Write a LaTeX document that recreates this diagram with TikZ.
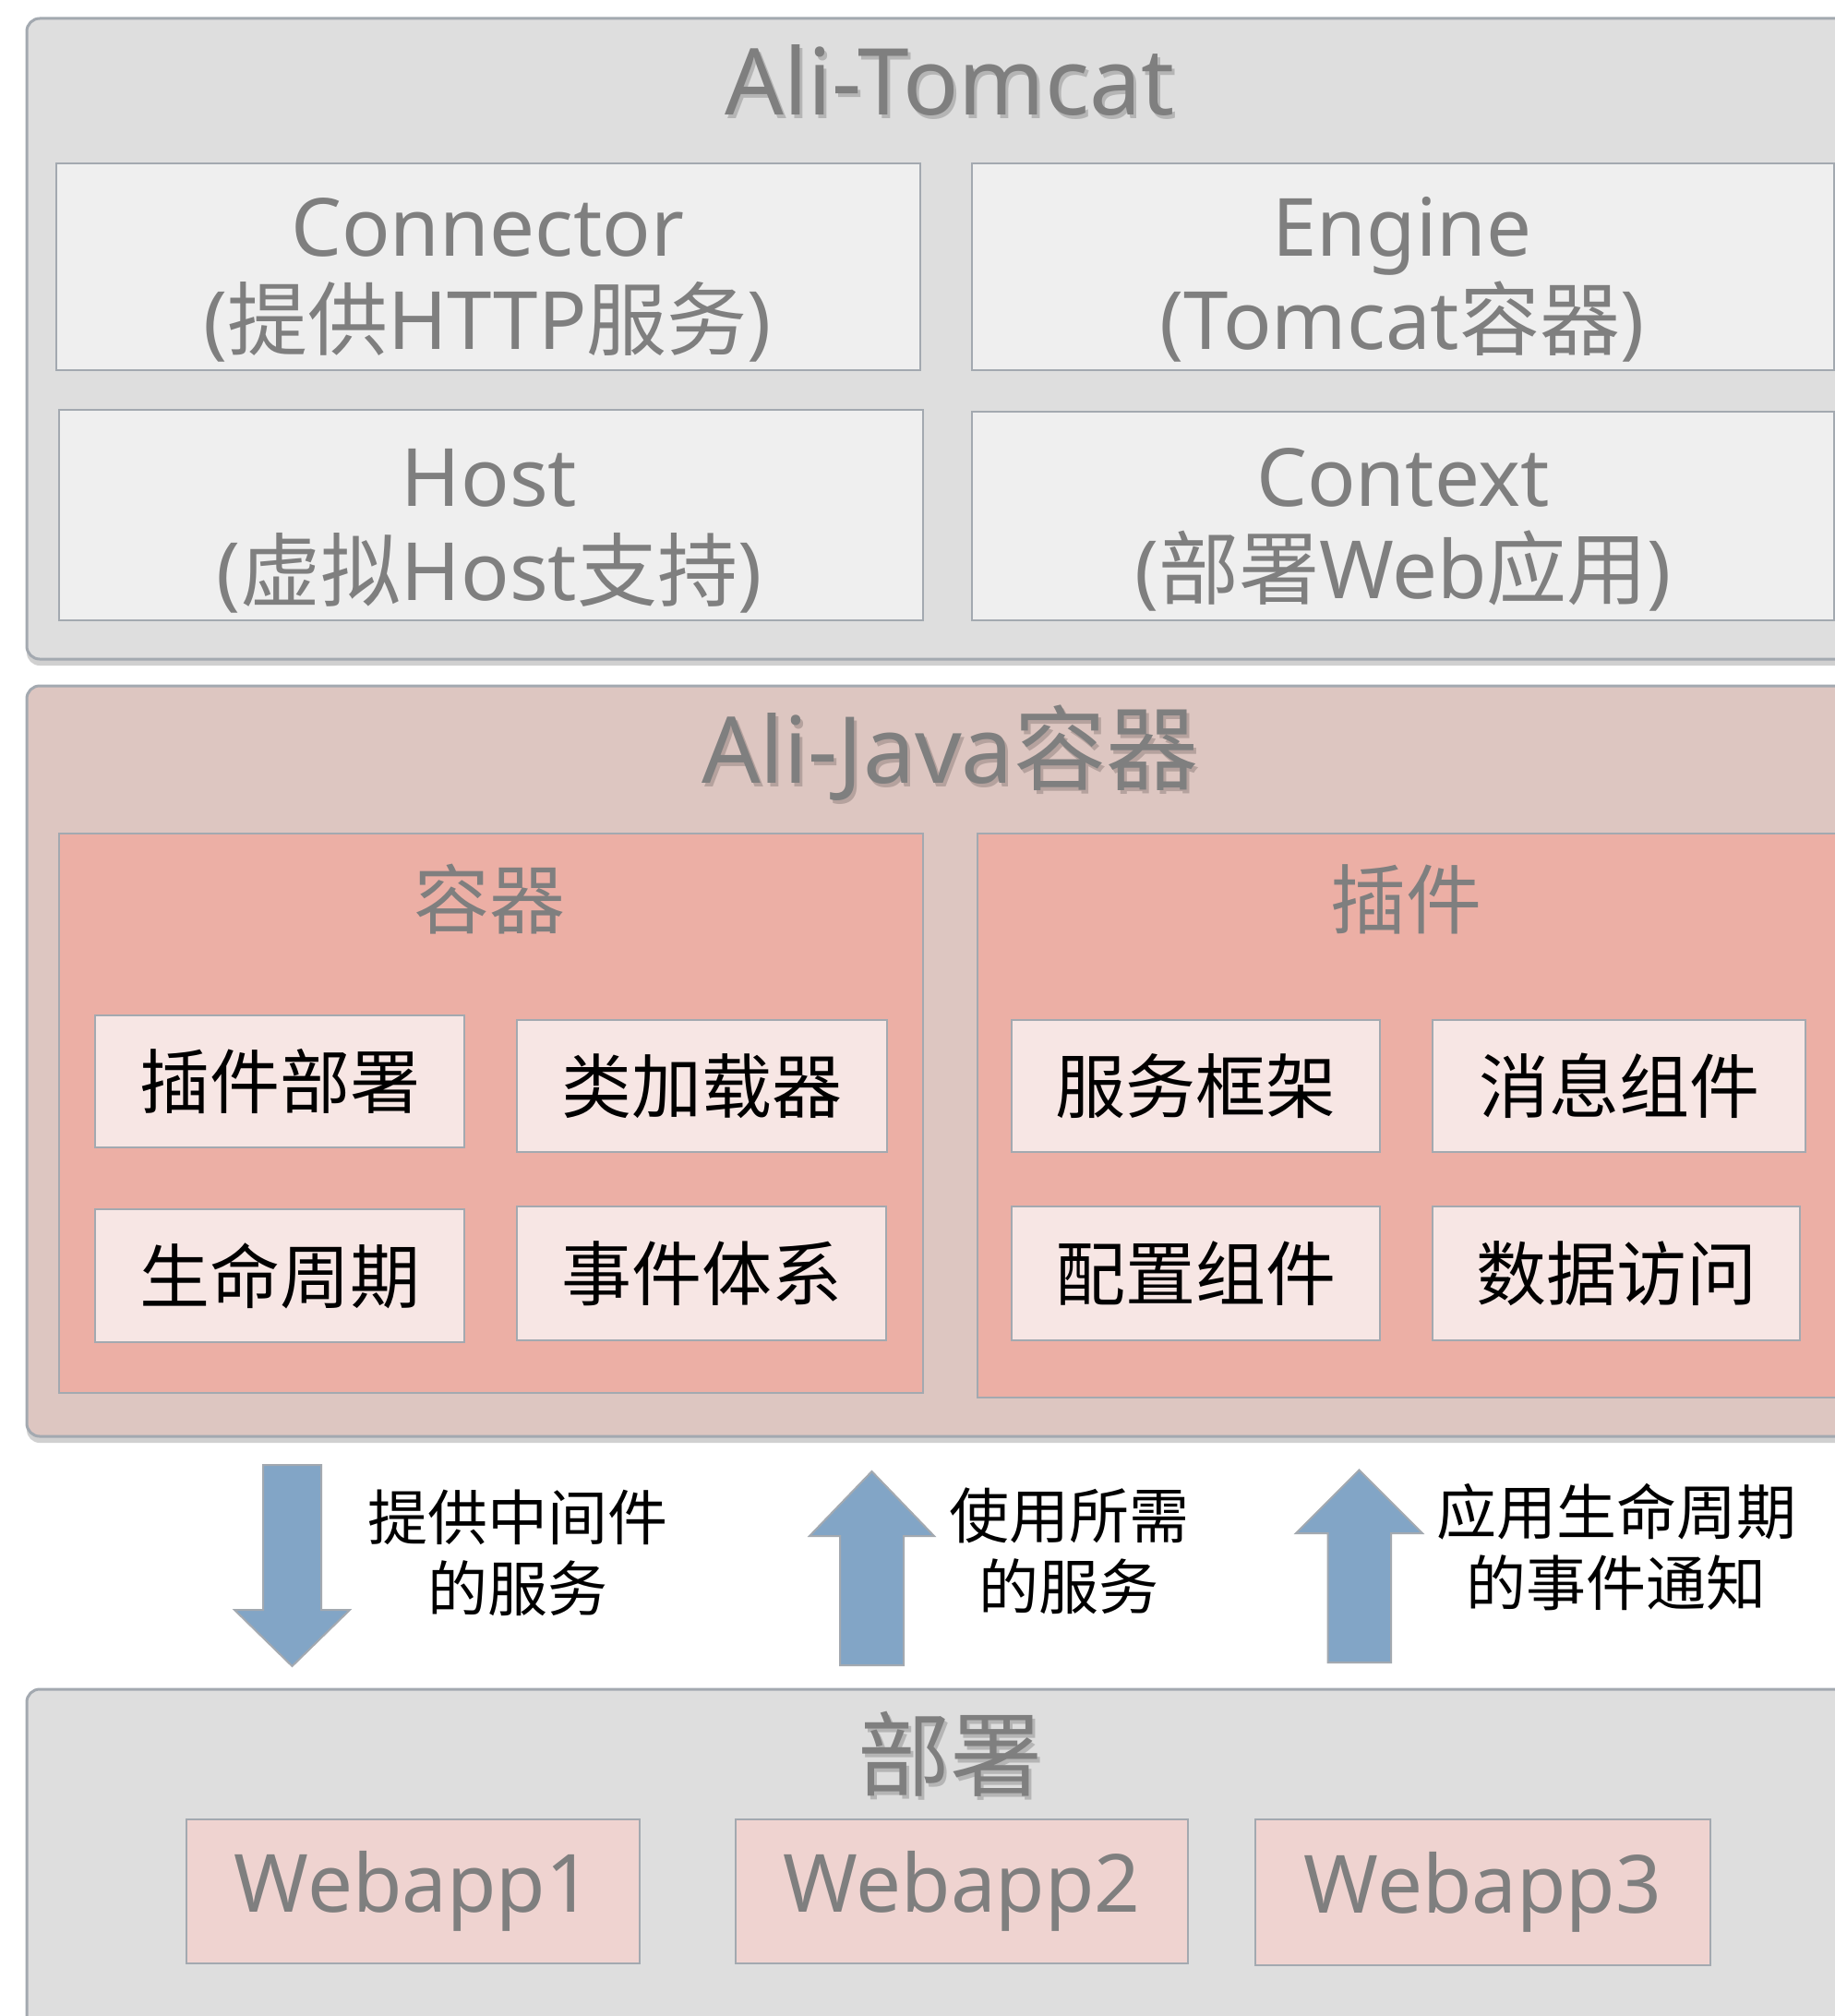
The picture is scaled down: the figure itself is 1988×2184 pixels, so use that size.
\documentclass[tikz,border=0pt]{standalone}
\usepackage{fontspec}
\setmainfont{Noto Sans}
\newfontfamily\cjk{Noto Sans CJK SC}
\usetikzlibrary{shadows}
\definecolor{panelgray}{HTML}{DEDEDE}
\definecolor{edgegray}{HTML}{A3A9B0}
\definecolor{boxgray}{HTML}{EFEFEF}
\definecolor{panelpink}{HTML}{DDC6C1}
\definecolor{innerpink}{HTML}{ECAFA5}
\definecolor{cellpink}{HTML}{F7E6E4}
\definecolor{apppink}{HTML}{EFD3D0}
\definecolor{txtgray}{HTML}{7F7F7F}
\definecolor{arrowblue}{HTML}{82A5C6}
\newcommand\zh[1]{{\cjk #1}}
\newcommand\fsz[1]{\fontsize{#1}{#1}\selectfont}
\tikzset{
  panel/.style={draw=edgegray, line width=3pt, rounded corners=14pt, anchor=north west,
    inner sep=0pt, outer sep=0pt,
    drop shadow={shadow xshift=0pt, shadow yshift=-7pt, opacity=0.3, fill=black!60}},
  frame/.style={draw=edgegray, line width=2.5pt, anchor=north west, inner sep=0pt, outer sep=0pt},
  cell/.style={draw=edgegray, line width=2.5pt, fill=cellpink, inner sep=0pt, text=black, font=\cjk\fsz{76}},
  app/.style={draw=edgegray, line width=2.5pt, fill=apppink, inner sep=0pt, text=txtgray, font=\fsz{87}},
  boxtext/.style={anchor=base, inner sep=0pt, text=txtgray, font=\fsz{87}},
  title/.style={anchor=base, inner sep=0pt, text=txtgray, font=\fsz{100}},
  tshadow/.style={anchor=base, inner sep=0pt, text=black, opacity=0.18, font=\fsz{100}},
  head/.style={inner sep=0pt, text=txtgray, font=\cjk\fsz{82}},
  note/.style={inner sep=0pt, align=center, text=black, font=\cjk\fontsize{65}{77}\selectfont},
  blockarrow/.style={fill=arrowblue, draw=edgegray, line width=2pt, line join=miter},
}
\begin{document}
\begin{tikzpicture}[x=1pt, y=-1pt]
\useasboundingbox (0,0) rectangle (1988,2184);
\fill[white] (0,0) rectangle (1988,2184);
\clip (0,0) rectangle (1988,2184);

% ---------- Ali-Tomcat ----------
\node[panel, fill=panelgray, minimum width=2001pt, minimum height=694pt] (tomcat) at (29,20) {};
\node[tshadow] at (1029+3,124+4) {Ali-Tomcat};
\node[title] (tomcatT) at (1029,124) {Ali-Tomcat};

\node[frame, fill=boxgray, minimum width=936pt, minimum height=224pt] (conn) at (61,177) {};
\node[frame, fill=boxgray, minimum width=934pt, minimum height=224pt] (engine) at (1053,177) {};
\node[frame, fill=boxgray, minimum width=936pt, minimum height=228pt] (host) at (64,444) {};
\node[frame, fill=boxgray, minimum width=934pt, minimum height=226pt] (context) at (1053,446) {};

\node[boxtext] (connA) at (528,277) {Connector};
\node[boxtext] (connB) at (528,378) {(\zh{提供}HTTP\zh{服务})};
\node[boxtext] (engA) at (1519,277) {Engine};
\node[boxtext] (engB) at (1519,378) {(Tomcat\zh{容器})};
\node[boxtext] (hostA) at (530,548) {Host};
\node[boxtext] (hostB) at (530,650) {(\zh{虚拟}Host\zh{支持})};
\node[boxtext] (ctxA) at (1520,548) {Context};
\node[boxtext] (ctxB) at (1520,648) {(\zh{部署}Web\zh{应用})};

% ---------- Ali-Java ----------
\node[panel, fill=panelpink, minimum width=2001pt, minimum height=813pt] (java) at (29,743) {};
\node[tshadow] at (1029+3,848+4) {Ali-Java\zh{容器}};
\node[title] (javaT) at (1029,848) {Ali-Java\zh{容器}};

\node[frame, fill=innerpink, minimum width=936pt, minimum height=606pt] (rongqi) at (64,903) {};
\node[frame, fill=innerpink, minimum width=971pt, minimum height=611pt] (chajian) at (1059,903) {};
\node[head] (rongqiT) at (530,974) {容器};
\node[head] (chajianT) at (1523,974) {插件};

\node[cell, minimum width=400pt, minimum height=143pt] (b1) at (303,1171.5) {插件部署};
\node[cell, minimum width=401pt, minimum height=143pt] (b2) at (760.5,1176.5) {类加载器};
\node[cell, minimum width=400pt, minimum height=144pt] (b3) at (303,1382) {生命周期};
\node[cell, minimum width=400pt, minimum height=145pt] (b4) at (760,1379.5) {事件体系};
\node[cell, minimum width=399pt, minimum height=143pt] (b5) at (1295.5,1176.5) {服务框架};
\node[cell, minimum width=404pt, minimum height=143pt] (b6) at (1754,1176.5) {消息组件};
\node[cell, minimum width=399pt, minimum height=145pt] (b7) at (1295.5,1379.5) {配置组件};
\node[cell, minimum width=398pt, minimum height=145pt] (b8) at (1751,1379.5) {数据访问};

% ---------- arrows ----------
\draw[blockarrow] (285,1587) -- (348,1587) -- (348,1744) -- (379,1744) -- (316.5,1805)
  -- (254,1744) -- (285,1744) -- cycle;
\draw[blockarrow] (910,1804) -- (979,1804) -- (979,1664) -- (1012,1664) -- (944.5,1594)
  -- (877,1664) -- (910,1664) -- cycle;
\draw[blockarrow] (1438.5,1801) -- (1507,1801) -- (1507,1661) -- (1541,1661) -- (1472.5,1592.5)
  -- (1404,1661) -- (1438.5,1661) -- cycle;

\node[note] (n1) at (561,1682) {提供中间件\\的服务};
\node[note] (n2) at (1158,1680) {使用所需\\的服务};
\node[note] (n3) at (1751,1676) {应用生命周期\\的事件通知};

% ---------- 部署 ----------
\node[panel, fill=panelgray, minimum width=2001pt, minimum height=430pt] (deploy) at (29,1830) {};
\node[inner sep=0pt, text=black, opacity=0.18, font=\cjk\fsz{100}] at (1029+3,1900+4) {部署};
\node[inner sep=0pt, text=txtgray, font=\cjk\fsz{100}] (deployT) at (1029,1900) {部署};

\node[app, minimum width=491pt, minimum height=156pt] (w1) at (447.5,2049) {Webapp1};
\node[app, minimum width=490pt, minimum height=156pt] (w2) at (1042,2049) {Webapp2};
\node[app, minimum width=493pt, minimum height=158pt] (w3) at (1606.5,2050) {Webapp3};
\end{tikzpicture}
\end{document}
